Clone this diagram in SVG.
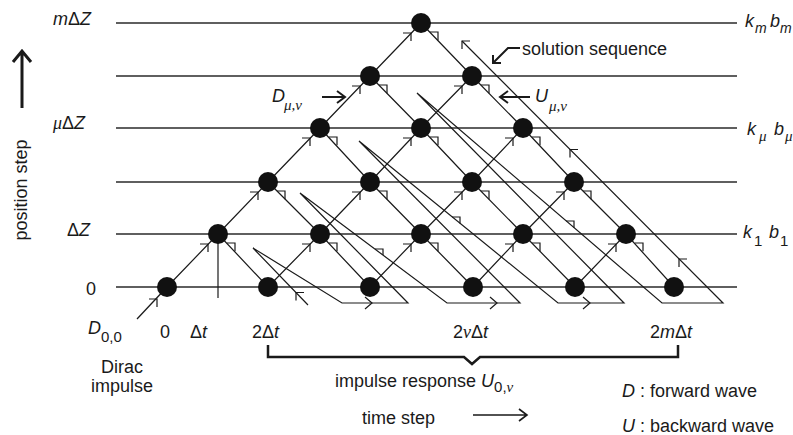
<svg xmlns="http://www.w3.org/2000/svg" width="793" height="435" viewBox="0 0 793 435">
<style>
.row{stroke:#2a2a2a;stroke-width:1.3}
.ln{stroke:#1a1a1a;stroke-width:1.2;fill:none}
.ah{stroke:#1a1a1a;stroke-width:1.2;fill:none}
.node{fill:#111}
.thick{stroke:#1a1a1a;fill:none}
text{font-family:"Liberation Sans",Arial,sans-serif;font-size:18px;fill:#1a1a1a}
.it{font-style:italic}
.gr{font-family:"Liberation Serif","Times New Roman",serif;font-style:italic}
.sub{font-size:15px}
.sm{font-size:14px}
</style>
<defs>
<path id="af" d="M-8,0H0V8"/>
<path id="ab" d="M0,0H8V8.3"/>
<path id="aul" d="M8,0H0V8"/>
<path id="ar" d="M-7,-6L0,0L-7,6"/>
</defs>

<g id="levels">
<line class="row" x1="116" y1="23" x2="737" y2="23"/>
<line class="row" x1="116" y1="76" x2="737" y2="76"/>
<line class="row" x1="116" y1="128" x2="737" y2="128"/>
<line class="row" x1="116" y1="182" x2="737" y2="182"/>
<line class="row" x1="116" y1="234" x2="737" y2="234"/>
<line class="row" x1="116" y1="287" x2="737" y2="287"/>
</g>

<g id="connectors">
<path class="ln" d="M137,319L167,287"/>
<use href="#af" class="ah" x="157" y="299"/>
<path class="ln" d="M218,234V298"/>
<path class="ln" d="M167,287L218,234M268,287L320,234M370,287L421,234M473,287L523,234M575,287L626,234
M218,234L268,182M320,234L370,182M421,234L472,182M523,234L574,182
M268,182L320,128M370,182L421,128M472,182L523,128
M320,128L370,76M421,128L472,76
M370,76L421,23"/>
<path class="ln" d="M218,234L268,287M320,234L370,287M421,234L473,287M523,234L575,287M626,234L674,287
M268,182L320,234M370,182L421,234M472,182L523,234M574,182L626,234
M320,128L370,182M421,128L472,182M523,128L574,182
M370,76L421,128M472,76L523,128
M421,23L472,76"/>
<use href="#af" class="ah" x="208" y="244"/>
<use href="#af" class="ah" x="310" y="244"/>
<use href="#af" class="ah" x="411" y="244"/>
<use href="#af" class="ah" x="513" y="244"/>
<use href="#af" class="ah" x="616" y="244"/>
<use href="#af" class="ah" x="258" y="192"/>
<use href="#af" class="ah" x="360" y="192"/>
<use href="#af" class="ah" x="462" y="192"/>
<use href="#af" class="ah" x="564" y="192"/>
<use href="#af" class="ah" x="310" y="138"/>
<use href="#af" class="ah" x="411" y="138"/>
<use href="#af" class="ah" x="513" y="138"/>
<use href="#af" class="ah" x="360" y="86"/>
<use href="#af" class="ah" x="462" y="86"/>
<use href="#af" class="ah" x="411" y="33"/>
<use href="#ab" class="ah" x="227" y="243"/>
<use href="#ab" class="ah" x="329" y="243"/>
<use href="#ab" class="ah" x="430" y="243"/>
<use href="#ab" class="ah" x="532" y="243"/>
<use href="#ab" class="ah" x="635" y="243"/>
<use href="#ab" class="ah" x="277" y="191"/>
<use href="#ab" class="ah" x="379" y="191"/>
<use href="#ab" class="ah" x="481" y="191"/>
<use href="#ab" class="ah" x="583" y="191"/>
<use href="#ab" class="ah" x="329" y="137"/>
<use href="#ab" class="ah" x="430" y="137"/>
<use href="#ab" class="ah" x="532" y="137"/>
<use href="#ab" class="ah" x="379" y="85"/>
<use href="#ab" class="ah" x="481" y="85"/>
<use href="#ab" class="ah" x="430" y="32"/>
<path class="ln" d="M308,305L253,248L342,303H408L300,193L447,303H520L359,141L558,303H624L417,93L662,303H723L462,41"/>
<use href="#aul" class="ah" x="296" y="292.5"/>
<use href="#aul" class="ah" x="679" y="259"/>
<use href="#aul" class="ah" x="570" y="149.5"/>
<use href="#aul" class="ah" x="462" y="41"/>
<path class="ah" d="M375,249h8v6M452,217h8v6.5M566,221h8v6.8"/>
<use href="#ar" class="ah" x="372" y="303"/>
<use href="#ar" class="ah" x="497" y="303"/>
<use href="#ar" class="ah" x="590" y="303"/>
<path class="thick" stroke-width="2" d="M322,97H345M337,91L345,97L337,103"/>
<path class="thick" stroke-width="2" d="M530,97H500M508,91L500,97L508,103"/>
<path class="thick" stroke-width="2" d="M520,48H508L493,63M493,55V63H501"/>
<path class="thick" stroke-width="3" d="M22,108V51M13,62L22,51L31,62"/>
<path class="thick" stroke-width="1.6" d="M473,415H527M519,409L527,415L519,421"/>
<path class="thick" stroke-width="2.5" d="M268,345V357H464L472,364L480,357H678V345"/>
</g>

<g id="nodes">
<g id="n00"><circle class="node" cx="167" cy="287" r="10"/></g>
<g id="n01"><circle class="node" cx="268" cy="287" r="10"/></g>
<g id="n02"><circle class="node" cx="370" cy="287" r="10"/></g>
<g id="n03"><circle class="node" cx="473" cy="287" r="10"/></g>
<g id="n04"><circle class="node" cx="575" cy="287" r="10"/></g>
<g id="n05"><circle class="node" cx="674" cy="287" r="10"/></g>
<g id="n10"><circle class="node" cx="218" cy="234" r="10"/></g>
<g id="n11"><circle class="node" cx="320" cy="234" r="10"/></g>
<g id="n12"><circle class="node" cx="421" cy="234" r="10"/></g>
<g id="n13"><circle class="node" cx="523" cy="234" r="10"/></g>
<g id="n14"><circle class="node" cx="626" cy="234" r="10"/></g>
<g id="n20"><circle class="node" cx="268" cy="182" r="10"/></g>
<g id="n21"><circle class="node" cx="370" cy="182" r="10"/></g>
<g id="n22"><circle class="node" cx="472" cy="182" r="10"/></g>
<g id="n23"><circle class="node" cx="574" cy="182" r="10"/></g>
<g id="n30"><circle class="node" cx="320" cy="128" r="10"/></g>
<g id="n31"><circle class="node" cx="421" cy="128" r="10"/></g>
<g id="n32"><circle class="node" cx="523" cy="128" r="10"/></g>
<g id="n40"><circle class="node" cx="370" cy="76" r="10"/></g>
<g id="n41"><circle class="node" cx="472" cy="76" r="10"/></g>
<g id="n50"><circle class="node" cx="421" cy="23" r="10"/></g>
</g>

<g id="labels">
<text x="53" y="25"><tspan class="it">m</tspan>Δ<tspan class="it">Z</tspan></text>
<text x="53" y="129"><tspan class="gr">μ</tspan>Δ<tspan class="it">Z</tspan></text>
<text x="67" y="236">Δ<tspan class="it">Z</tspan></text>
<text x="86" y="295">0</text>
<text transform="translate(27,190) rotate(-90)" text-anchor="middle" font-size="20">position step</text>

<text x="745" y="27"><tspan class="it">k</tspan><tspan class="it sm" x="755" y="33">m</tspan><tspan class="it" x="770" y="27">b</tspan><tspan class="it sm" x="780" y="33">m</tspan></text>
<text x="747" y="135"><tspan class="it">k</tspan><tspan class="gr sub" x="759" y="141">μ</tspan><tspan class="it" x="774" y="135">b</tspan><tspan class="gr sub" x="785" y="141">μ</tspan></text>
<text x="743" y="238"><tspan class="it">k</tspan><tspan class="sub" x="754" y="246">1</tspan><tspan class="it" x="769" y="238">b</tspan><tspan class="sub" x="780" y="246">1</tspan></text>

<text x="522" y="55">solution sequence</text>
<text x="272" y="102"><tspan class="it">D</tspan><tspan class="gr sub" x="284" y="110">μ,ν</tspan></text>
<text x="535" y="102"><tspan class="it">U</tspan><tspan class="gr sub" x="549" y="111">μ,ν</tspan></text>

<text x="88" y="334"><tspan class="it">D</tspan><tspan class="sub" x="101" y="342">0,0</tspan></text>
<text x="160" y="338">0</text>
<text x="190" y="338">Δ<tspan class="it">t</tspan></text>
<text x="252" y="338">2Δ<tspan class="it">t</tspan></text>
<text x="453" y="338">2<tspan class="gr">ν</tspan>Δ<tspan class="it">t</tspan></text>
<text x="650" y="338">2<tspan class="it">m</tspan>Δ<tspan class="it">t</tspan></text>
<text x="122" y="373" text-anchor="middle">Dirac</text>
<text x="122" y="392" text-anchor="middle">impulse</text>
<text x="335" y="387">impulse response <tspan class="it">U</tspan><tspan class="sub" dy="5">0,</tspan><tspan class="gr sub">ν</tspan></text>
<text x="362" y="424">time step</text>
<text x="622" y="397"><tspan class="it">D</tspan> : forward wave</text>
<text x="622" y="432"><tspan class="it">U</tspan> : backward wave</text>
</g>
</svg>
